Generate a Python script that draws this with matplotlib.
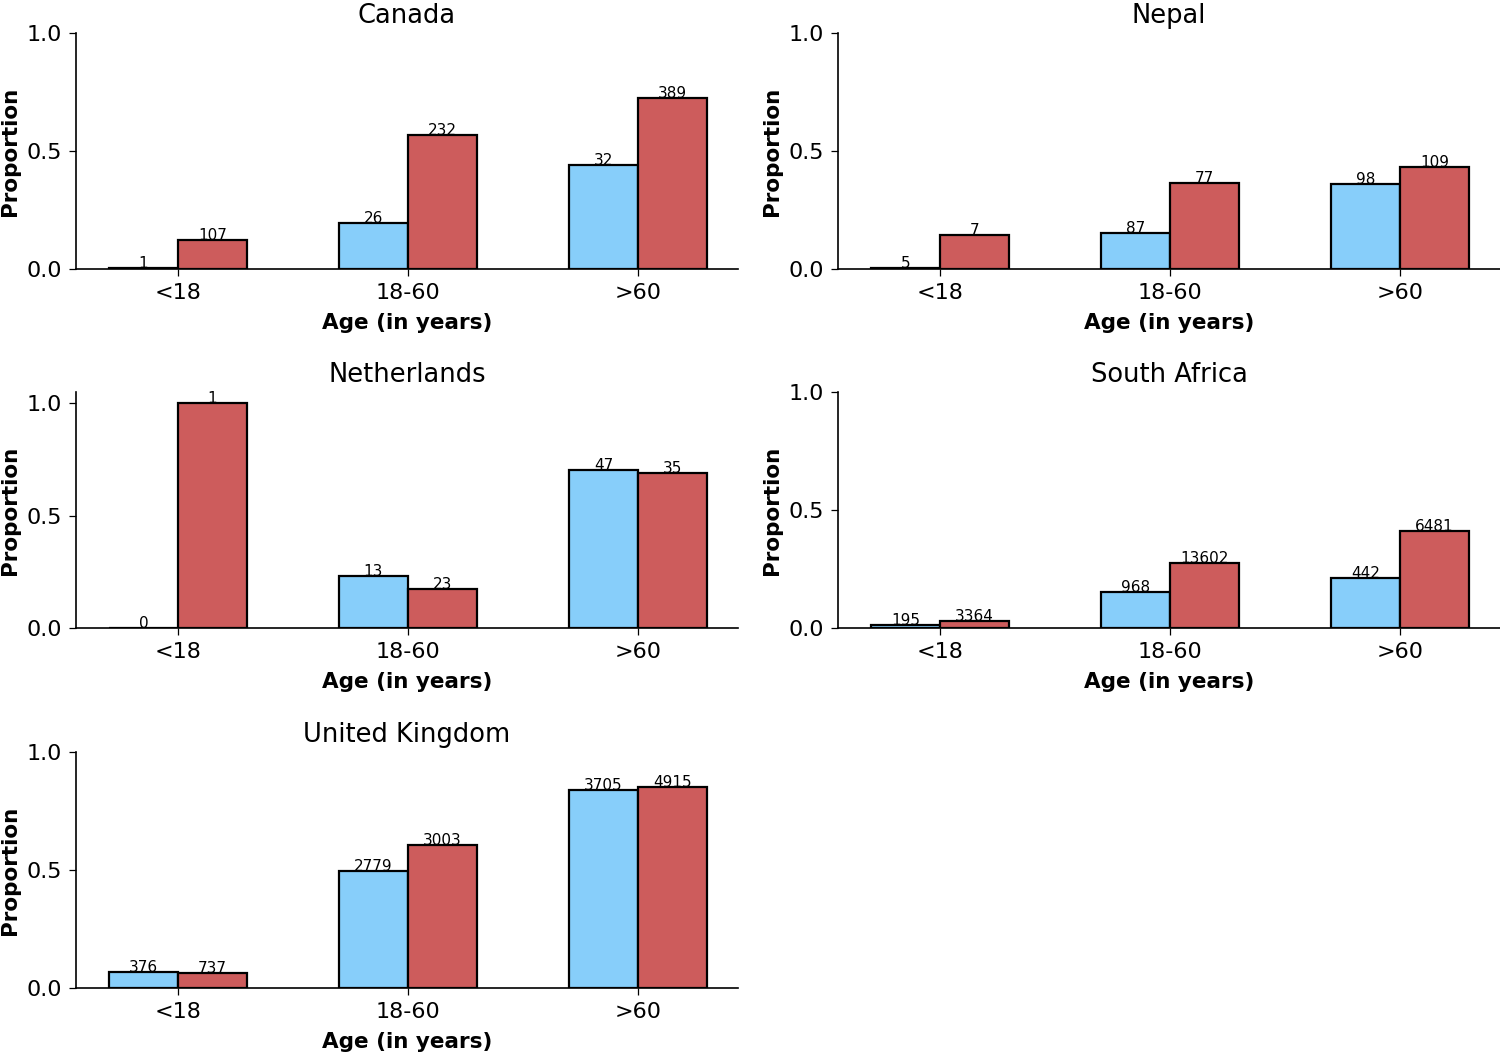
import numpy as np
import matplotlib
matplotlib.use("Agg")
import matplotlib.pyplot as plt

age_groups = ["<18", "18-60", ">60"]
countries = ["Canada", "Nepal", "Netherlands", "South Africa", "United Kingdom"]

# proportions (blue, red) and counts shown on top of bars
blue_prop = {
    "Canada": [0.003, 0.195, 0.44],
    "Nepal": [0.004, 0.153, 0.36],
    "Netherlands": [0.0, 0.232, 0.705],
    "South Africa": [0.013, 0.153, 0.212],
    "United Kingdom": [0.068, 0.496, 0.839],
}
red_prop = {
    "Canada": [0.123, 0.568, 0.725],
    "Nepal": [0.144, 0.364, 0.432],
    "Netherlands": [1.0, 0.174, 0.688],
    "South Africa": [0.03, 0.275, 0.411],
    "United Kingdom": [0.064, 0.606, 0.852],
}
blue_n = {
    "Canada": [1, 26, 32],
    "Nepal": [5, 87, 98],
    "Netherlands": [0, 13, 47],
    "South Africa": [195, 968, 442],
    "United Kingdom": [376, 2779, 3705],
}
red_n = {
    "Canada": [107, 232, 389],
    "Nepal": [7, 77, 109],
    "Netherlands": [1, 23, 35],
    "South Africa": [3364, 13602, 6481],
    "United Kingdom": [737, 3003, 4915],
}

fig = plt.figure(figsize=(15, 10.53), dpi=100)

W, H = 0.4413, 0.2241
lefts = [0.0507, 0.5587]
bottoms = [0.7445, 0.4036, 0.0617]

x = np.arange(len(age_groups))
w = 0.3

for i, c in enumerate(countries):
    ax = fig.add_axes([lefts[i % 2], bottoms[i // 2], W, H])
    b1 = ax.bar(x - w / 2, blue_prop[c], w, color="lightskyblue",
                edgecolor="black", linewidth=1.6)
    b2 = ax.bar(x + w / 2, red_prop[c], w, color="indianred",
                edgecolor="black", linewidth=1.6)
    for bars, counts in ((b1, blue_n[c]), (b2, red_n[c])):
        for rect, n in zip(bars, counts):
            ax.text(rect.get_x() + rect.get_width() / 2, rect.get_height(),
                    str(n), ha="center", va="baseline", fontsize=11)
    if max(max(blue_prop[c]), max(red_prop[c])) < 1:
        ax.set_ylim(0, 1)
    ax.set_xlim(-0.443, 2.435)
    ax.set_yticks([0, 0.5, 1.0])
    ax.set_xticks(x)
    ax.set_xticklabels(age_groups)
    ax.tick_params(labelsize=16, length=5, width=0.9, pad=5)
    ax.set_title(c, fontsize=18.5, pad=7)
    ax.set_xlabel("Age (in years)", fontsize=15.5, fontweight="bold", labelpad=7)
    ax.set_ylabel("Proportion", fontsize=15.5, fontweight="bold", labelpad=4.5)
    ax.spines["top"].set_visible(False)
    ax.spines["right"].set_visible(False)
    ax.spines["left"].set_linewidth(1.2)
    ax.spines["bottom"].set_linewidth(1.2)

plt.savefig("out.png", dpi=100)
